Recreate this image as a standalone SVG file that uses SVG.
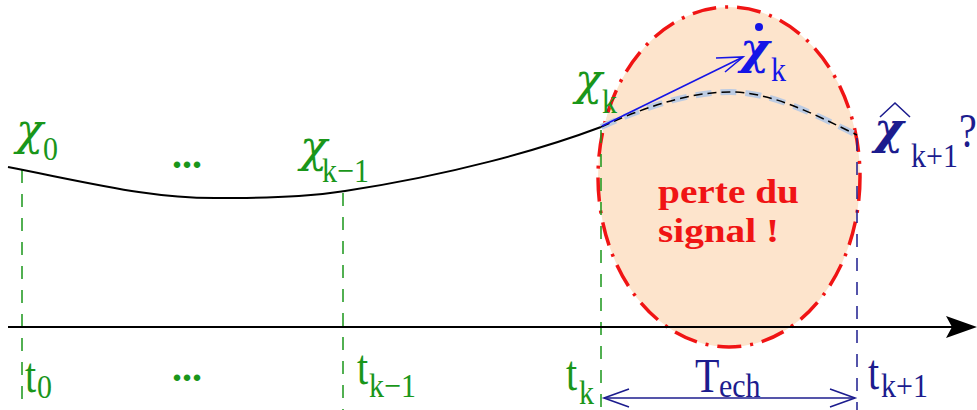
<svg xmlns="http://www.w3.org/2000/svg" width="977" height="410" viewBox="0 0 977 410">
<style>
.ser{font-family:"Liberation Serif","DejaVu Serif",serif}
.chi{font-family:"DejaVu Serif","Liberation Serif",serif;font-style:italic;font-size:45px}
.g{fill:#1a961a}
.b{fill:#1515e6}
.n{fill:#1c1c8e}
.m{font-family:"Liberation Serif","DejaVu Serif",serif;font-size:40px}
.s{font-family:"Liberation Serif","DejaVu Serif",serif;font-size:30px}
.vg{stroke:#1a961a;stroke-width:1.5;stroke-dasharray:13 11;fill:none}
.vb{stroke:#1c1c8e;stroke-width:1.5;stroke-dasharray:13 11;fill:none}
</style>
<rect width="977" height="410" fill="#fff"/>
<g id="loss-zone">
<ellipse cx="729" cy="177" rx="131" ry="170" fill="#fde4cc" stroke="#f01414" stroke-width="3.5" stroke-dasharray="24 9 3 9"/>
</g>
<g id="connectors">
<path class="vg" d="M22,170 V410"/>
<path class="vg" d="M343,193 V410"/>
<path class="vg" d="M601,130 V410"/>
<path class="vb" d="M857,138 V410"/>
<path d="M8,167 C100,185 150,198 215,198 C290,198 320,195 345,191 C450,175 540,150 601,127" fill="none" stroke="#000" stroke-width="2"/>
<path d="M601,127 C660,100 700,92 730,92 C770,92 810,112 857,135" fill="none" stroke="#bccbe2" stroke-width="6" stroke-dasharray="16 9"/>
<path d="M601,127 C660,100 700,92 730,92 C770,92 810,112 857,135" fill="none" stroke="#000" stroke-width="1.5" stroke-dasharray="9 5"/>
<path d="M8,327 H955" stroke="#000" stroke-width="2.2"/>
<path d="M946,316 L977,327 L946,338 L952,327 Z" fill="#000"/>
<path d="M602,126 L743,57" stroke="#1515e6" stroke-width="1.6" fill="none"/>
<path d="M716,58 L743,57 L725,72" stroke="#1515e6" stroke-width="1.6" fill="none"/>
<path d="M604,398 H855" stroke="#1c1c8e" stroke-width="1.6"/>
<path d="M629,389 L604,398 L629,407 M830,389 L855,398 L830,407" stroke="#1c1c8e" stroke-width="1.6" fill="none"/>
</g>
<g id="loss-label" class="ser" font-weight="bold" fill="#f01414" font-size="34">
<text x="658" y="203" textLength="141" lengthAdjust="spacingAndGlyphs">perte du</text>
<text x="658" y="242" textLength="121" lengthAdjust="spacingAndGlyphs">signal !</text>
</g>
<g id="chi0" class="g"><text class="chi" x="16" y="145">χ</text><text class="s" transform="translate(43,160) scale(1,1.15)">0</text></g>
<g id="dots-top" class="g"><text class="m" x="172" y="168" font-weight="bold">...</text></g>
<g id="chikm1" class="g"><text class="chi" x="300" y="162">χ</text><text class="s" transform="translate(322,182) scale(1,1.15)">k−1</text></g>
<g id="chik" class="g"><text class="chi" x="575" y="95">χ</text><text class="s" transform="translate(602,113) scale(1,1.15)">k</text></g>
<g id="chidotk" class="b"><circle cx="759" cy="27" r="4" fill="#1515e6"/><text class="chi" x="740" y="64" font-weight="bold">χ</text><text class="s" transform="translate(771,81) scale(1,1.15)">k</text></g>
<g id="chihat" class="n"><path d="M880,117 L895,103 L910,117" fill="none" stroke="#1c1c8e" stroke-width="1.6"/><text class="chi" x="874" y="144" font-weight="bold">χ</text><text class="s" transform="translate(911,167) scale(1,1.15)">k+1</text><text class="m" transform="translate(959,147) scale(1,1.2)">?</text></g>
<g id="t0" class="g"><text class="m" transform="translate(25,392) scale(1,1.25)">t</text><text class="s" transform="translate(37,398) scale(1,1.15)">0</text></g>
<g id="dots-bottom" class="g"><text class="m" x="172" y="381" font-weight="bold">...</text></g>
<g id="tkm1" class="g"><text class="m" transform="translate(357,384) scale(1,1.25)">t</text><text class="s" transform="translate(369,397) scale(1,1.15)">k−1</text></g>
<g id="tk" class="g"><text class="m" transform="translate(566,390) scale(1,1.25)">t</text><text class="s" transform="translate(579,404) scale(1,1.1)">k</text></g>
<g id="tech" class="n"><text class="m" transform="translate(695,392) scale(1,1.2)">T</text><text class="s" transform="translate(719,397) scale(1,1.15)">ech</text></g>
<g id="tkp1" class="n"><text class="m" transform="translate(868,389) scale(1,1.25)">t</text><text class="s" transform="translate(881,397) scale(1,1.15)">k+1</text></g>
</svg>
